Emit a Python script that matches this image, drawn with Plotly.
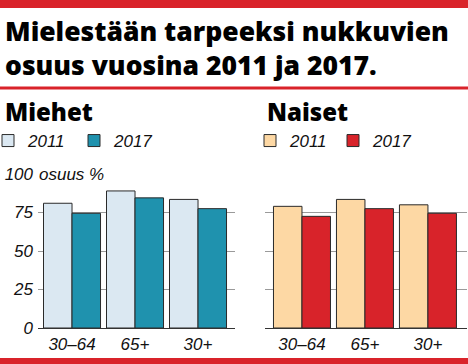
import plotly.graph_objects as go

W, H = 468, 364

categories = ["30–64", "65+", "30+"]
men_2011 = [81, 89, 83.5]
men_2017 = [74.5, 84.5, 77.5]
women_2011 = [79, 83.5, 80]
women_2017 = [72.5, 77.5, 74.5]
y_ticks = [0, 25, 50, 75, 100]

C_M11 = "#dbe8f2"
C_M17 = "#1f92ae"
C_W11 = "#fdd8a4"
C_W17 = "#d8232a"
RED = "#d9232a"
EDGE = "#2a2a2a"

def px_y(y):
    return (H - y) / H

def px_x(x):
    return x / W

fig = go.Figure()

def add_bar(name, vals, color, xa, ya, legend):
    fig.add_trace(go.Bar(
        x=categories, y=vals, name=name, marker=dict(color=color, line=dict(color=EDGE, width=1)),
        xaxis=xa, yaxis=ya, legend=legend, hoverinfo="skip",
    ))

add_bar("2011", men_2011, C_M11, "x", "y", "legend")
add_bar("2017", men_2017, C_M17, "x", "y", "legend")
add_bar("2011", women_2011, C_W11, "x2", "y2", "legend2")
add_bar("2017", women_2017, C_W17, "x2", "y2", "legend2")

FAM = "Liberation Sans, Arial, sans-serif"
tickfont = dict(family=FAM, size=17, color="#111", style="italic")

ydom = [px_y(328), px_y(174)]
common_y = dict(range=[0, 100], tickvals=y_ticks, showgrid=True, gridcolor="#9a9a9a", gridwidth=1,
                zeroline=True, zerolinecolor="#333", zerolinewidth=1.2, showline=False, ticks="",
                tickfont=tickfont, fixedrange=True, automargin=False)
common_x = dict(showgrid=False, showline=False, ticks="", tickfont=tickfont, ticklabelstandoff=4,
                fixedrange=True, automargin=False)
leg_common = dict(orientation="h", xref="paper", yref="paper", xanchor="left", yanchor="top",
                  font=dict(family=FAM, size=17, style="italic", color="#111"),
                  bgcolor="rgba(0,0,0,0)", itemclick=False, itemdoubleclick=False)

fig.update_layout(
    width=W, height=H, margin=dict(l=0, r=0, t=0, b=0, autoexpand=False),
    paper_bgcolor="white", plot_bgcolor="white",
    barmode="group", bargap=0.095, bargroupgap=0,
    xaxis=dict(domain=[px_x(38), px_x(235)], range=[-0.54, 2.587], anchor="y", **common_x),
    xaxis2=dict(domain=[px_x(265), px_x(467)], range=[-0.587, 2.62], anchor="y2", **common_x),
    yaxis=dict(domain=ydom, anchor="x", ticklabelstandoff=4, **common_y),
    yaxis2=dict(domain=ydom, anchor="x2", showticklabels=False, **common_y),
    legend=dict(x=px_x(-12), y=px_y(123), entrywidth=41, **leg_common),
    legend2=dict(x=px_x(250), y=px_y(123), entrywidth=38, **leg_common),
    showlegend=True,
)

title_font = dict(family="Noto Sans, Open Sans, Liberation Sans, Arial", size=26.5, color="#000", weight=900)
fig.add_annotation(text="Mielestään tarpeeksi nukkuvien<br>osuus vuosina 2011 ja 2017.",
                   xref="paper", yref="paper", x=px_x(3), y=px_y(10.5), xanchor="left", yanchor="top",
                   showarrow=False, align="left", font=title_font)
sub_font = dict(family="Noto Sans, Open Sans, Liberation Sans, Arial", size=24, color="#000", weight=900)
fig.add_annotation(text="Miehet", xref="paper", yref="paper", x=px_x(3), y=px_y(93),
                   xanchor="left", yanchor="top", showarrow=False, font=sub_font)
fig.add_annotation(text="Naiset", xref="paper", yref="paper", x=px_x(265), y=px_y(93),
                   xanchor="left", yanchor="top", showarrow=False, font=sub_font)
fig.add_annotation(text="osuus %", xref="paper", yref="y", x=px_x(37), y=100,
                   xanchor="left", yanchor="middle", showarrow=False, bgcolor="white",
                   font=tickfont, borderpad=1)

# decorative red bands
fig.add_shape(type="rect", xref="paper", yref="paper", x0=0, x1=1, y0=px_y(8), y1=1,
              fillcolor=RED, line_width=0, layer="above")
fig.add_shape(type="rect", xref="paper", yref="paper", x0=0, x1=1, y0=px_y(89.5), y1=px_y(86.5),
              fillcolor=RED, line_width=0, layer="above")
fig.add_shape(type="rect", xref="paper", yref="paper", x0=0, x1=1, y0=0, y1=px_y(358),
              fillcolor=RED, line_width=0, layer="above")

fig.write_html("out.html", config={"displayModeBar": False},
               post_script="document.body.style.margin='0';document.body.style.overflow='hidden';")
